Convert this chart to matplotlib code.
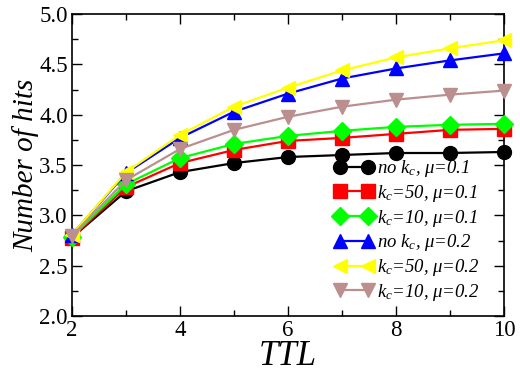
import matplotlib
matplotlib.use("Agg")
import matplotlib.pyplot as plt
from matplotlib.ticker import MultipleLocator

plt.rcParams["font.family"] = ["Liberation Serif", "DejaVu Serif"]
plt.rcParams["mathtext.fontset"] = "custom"
plt.rcParams["mathtext.it"] = "Liberation Serif:italic"
plt.rcParams["mathtext.rm"] = "Liberation Serif"

# ------------------------------------------------------------------ #
# Data: mean number of hits vs TTL
# ------------------------------------------------------------------ #
ttl = [2, 3, 4, 5, 6, 7, 8, 9, 10]
no_kc_mu01 = [2.78, 3.24, 3.43, 3.52, 3.58, 3.60, 3.62, 3.62, 3.63]
kc50_mu01 = [2.78, 3.28, 3.52, 3.65, 3.74, 3.77, 3.81, 3.85, 3.86]
kc10_mu01 = [2.79, 3.31, 3.57, 3.71, 3.79, 3.84, 3.88, 3.90, 3.91]
no_kc_mu02 = [2.81, 3.42, 3.77, 4.03, 4.21, 4.36, 4.46, 4.54, 4.61]
kc50_mu02 = [2.81, 3.43, 3.80, 4.08, 4.27, 4.44, 4.57, 4.66, 4.74]
kc10_mu02 = [2.80, 3.35, 3.66, 3.85, 3.98, 4.08, 4.15, 4.20, 4.24]

series = [
    (no_kc_mu01, r"no $k_c$, μ=0.1", "black", "o"),
    (kc50_mu01, r"$k_c$=50, μ=0.1", "red", "s"),
    (kc10_mu01, r"$k_c$=10, μ=0.1", "#00ff00", "D"),
    (no_kc_mu02, r"no $k_c$, μ=0.2", "blue", "^"),
    (kc50_mu02, r"$k_c$=50, μ=0.2", "yellow", "<"),
    (kc10_mu02, r"$k_c$=10, μ=0.2", "#bc8f8f", "v"),
]

fig = plt.figure(figsize=(5.2, 3.72), dpi=100)
ax = fig.add_axes([0.1385, 0.1505, 0.8305, 0.8115])

for ys, label, color, marker in series:
    ms = 9 if marker == "D" else 10
    ax.plot(ttl, ys, color=color, marker=marker, markersize=ms,
            linewidth=1.6, label=label, clip_on=False, zorder=3)

ax.set_xlim(2, 10)
ax.set_ylim(2.0, 5.0)
ax.xaxis.set_major_locator(MultipleLocator(2))
ax.xaxis.set_minor_locator(MultipleLocator(1))
ax.yaxis.set_major_locator(MultipleLocator(0.5))
ax.yaxis.set_minor_locator(MultipleLocator(0.25))
ax.tick_params(which="both", direction="in", top=True, right=True,
               width=1.0, labelsize=16.5)
ax.tick_params(which="major", length=7, pad=3)
ax.tick_params(which="minor", length=4)
ax.yaxis.set_major_formatter(plt.FormatStrFormatter("%.1f"))
for sp in ax.spines.values():
    sp.set_linewidth(1.2)

ax.set_xlabel("TTL", fontsize=25, fontstyle="italic", labelpad=-1)
ax.set_ylabel("Number of hits", fontsize=21, fontstyle="italic", labelpad=0)

leg = ax.legend(loc="lower right", frameon=False, numpoints=2,
                handlelength=2.1, handletextpad=0.2, labelspacing=0.2,
                borderaxespad=0.3, bbox_to_anchor=(0.975, 0.0),
                prop={"family": "Liberation Serif", "style": "italic", "size": 13.5})

fig.savefig("out.png", dpi=100)
